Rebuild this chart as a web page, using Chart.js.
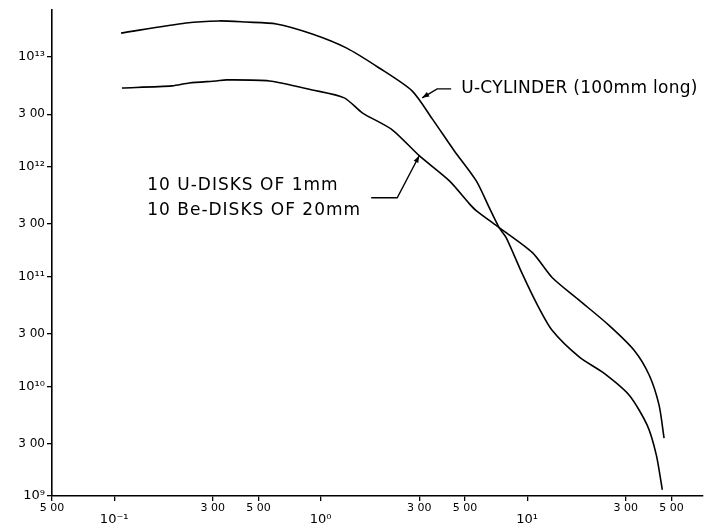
<!DOCTYPE html>
<html>
<head>
<meta charset="utf-8">
<script src="https://cdn.jsdelivr.net/npm/chart.js@4.4.1/dist/chart.umd.min.js"></script>
<style>
  html, body { margin: 0; padding: 0; background: #fff; }
  #wrap { width: 705px; height: 526px; }
</style>
</head>
<body>
<div id="wrap"><canvas id="chart" width="705" height="526"></canvas></div>
<script>
// U-cylinder (100 mm long)
const cylinderX = [0.108, 0.223, 0.322, 0.435, 0.61, 0.91, 1.33, 1.92, 2.77, 3.47, 4.43, 5.66, 6.55, 7.31, 7.91, 9.46, 11.1, 13.2, 17.9, 23.6, 31.2, 38.1, 42.2, 45.1];
const cylinderY = [1.65e13, 2.04e13, 2.13e13, 2.08e13, 2.0e13, 1.62e13, 1.21e13, 7.94e12, 4.91e12, 2.73e12, 1.40e12, 7.46e11, 4.24e11, 2.79e11, 2.26e11, 1.06e11, 5.69e10, 3.23e10, 1.84e10, 1.31e10, 8.28e9, 4.42e9, 2.36e9, 1.14e9];

// 10 U-disks of 1 mm + 10 Be-disks of 20 mm
const disksX = [0.109, 0.191, 0.231, 0.312, 0.349, 0.564, 0.91, 1.30, 1.59, 2.22, 3.0, 4.19, 5.24, 5.66, 7.31, 10.6, 13.2, 17.9, 24.9, 33.0, 39.0, 43.5, 46.0];
const disksY = [5.22e12, 5.45e12, 5.8e12, 6.05e12, 6.18e12, 6.05e12, 5.01e12, 4.24e12, 3.1e12, 2.17e12, 1.26e12, 7.46e11, 4.61e11, 3.98e11, 2.79e11, 1.65e11, 9.8e10, 6.05e10, 3.59e10, 2.12e10, 1.26e10, 6.72e9, 3.37e9];

// Axis ticks and their printed labels
const xTicks = [0.05, 0.1, 0.3, 0.5, 1, 3, 5, 10, 30, 50];
const xTickLabels = ['5 00', ['', '10\u207B\u00B9'], '3 00', '5 00', ['', '10\u2070'], '3 00', '5 00', ['', '10\u00B9'], '3 00', '5 00'];
const yTicks = [1e9, 3e9, 1e10, 3e10, 1e11, 3e11, 1e12, 3e12, 1e13];
const yTickLabels = ['10\u2079', '3 00', '10\u00B9\u2070', '3 00', '10\u00B9\u00B9', '3 00', '10\u00B9\u00B2', '3 00', '10\u00B9\u00B3'];

// Curve labels: where each leader arrow touches its curve
const cylinderLabel = ['U-CYLINDER (100mm long)'];
const cylinderArrowAt = [3.1, 4.24e12];
const disksLabel = ['10 U-DISKS OF 1mm', '10 Be-DISKS OF 20mm'];
const disksArrowAt = [3.0, 1.26e12];

const toPoints = (xs, ys) => xs.map((x, i) => ({ x, y: ys[i] }));
const isDecade = v => Math.abs(Math.log10(v) - Math.round(Math.log10(v))) < 1e-9;

function arrowHead(ctx, fromX, fromY, toX, toY) {
  const a = Math.atan2(toY - fromY, toX - fromX);
  const len = 7, w = 2.6;
  ctx.beginPath();
  ctx.moveTo(toX, toY);
  ctx.lineTo(toX - len * Math.cos(a) + w * Math.sin(a), toY - len * Math.sin(a) - w * Math.cos(a));
  ctx.lineTo(toX - len * Math.cos(a) - w * Math.sin(a), toY - len * Math.sin(a) + w * Math.cos(a));
  ctx.closePath();
  ctx.fill();
}

const leaderLabels = {
  id: 'leaderLabels',
  afterDatasetsDraw(chart) {
    const { ctx, scales: { x, y } } = chart;
    ctx.save();
    ctx.strokeStyle = '#000';
    ctx.fillStyle = '#000';
    ctx.lineWidth = 1.4;
    ctx.font = '17px "DejaVu Sans"';
    ctx.textBaseline = 'middle';
    ctx.textAlign = 'left';

    // cylinder leader: up-right, then horizontal to the text
    let tx = x.getPixelForValue(cylinderArrowAt[0]);
    let ty = y.getPixelForValue(cylinderArrowAt[1]);
    let ex = tx + 15, ey = ty - 9;
    ctx.beginPath();
    ctx.moveTo(tx + 29, ey);
    ctx.lineTo(ex, ey);
    ctx.lineTo(tx, ty);
    ctx.stroke();
    arrowHead(ctx, ex, ey, tx, ty);
    ctx.letterSpacing = '0.3px';
    ctx.fillText(cylinderLabel[0], tx + 39, ey);

    // disks leader: down-left, then horizontal toward the text
    tx = x.getPixelForValue(disksArrowAt[0]);
    ty = y.getPixelForValue(disksArrowAt[1]);
    ex = tx - 22; ey = ty + 42;
    ctx.beginPath();
    ctx.moveTo(tx - 48, ey);
    ctx.lineTo(ex, ey);
    ctx.lineTo(tx, ty);
    ctx.stroke();
    arrowHead(ctx, ex, ey, tx, ty);
    ctx.letterSpacing = '1px';
    ctx.fillText(disksLabel[0], tx - 272, ty + 30);
    ctx.fillText(disksLabel[1], tx - 272, ty + 55);
    ctx.restore();
  }
};

const lineStyle = {
  borderColor: '#000',
  borderWidth: 1.6,
  pointRadius: 0,
  fill: false,
  tension: 0.25
};

new Chart(document.getElementById('chart'), {
  type: 'line',
  data: {
    datasets: [
      Object.assign({ label: 'U-CYLINDER (100mm long)', data: toPoints(cylinderX, cylinderY) }, lineStyle),
      Object.assign({ label: '10 U-DISKS OF 1mm / 10 Be-DISKS OF 20mm', data: toPoints(disksX, disksY) }, lineStyle)
    ]
  },
  options: {
    responsive: false,
    animation: false,
    events: [],
    layout: { padding: { left: 0, top: 9, right: 2, bottom: 0 } },
    plugins: { legend: { display: false }, tooltip: { enabled: false } },
    scales: {
      x: {
        type: 'logarithmic',
        min: 0.05,
        max: 71,
        afterBuildTicks: s => { s.ticks = xTicks.map(v => ({ value: v })); },
        afterFit: s => { s.height = 30; },
        ticks: {
          autoSkip: false,
          maxRotation: 0,
          color: '#000',
          padding: 1,
          font: c => (c.tick && isDecade(c.tick.value))
            ? { family: '"DejaVu Sans"', size: 13, lineHeight: 0.92 }
            : { family: '"DejaVu Sans"', size: 11, lineHeight: 1.1 },
          callback: (v, i) => xTickLabels[i]
        },
        grid: { drawOnChartArea: false, drawTicks: true, tickLength: 5, color: '#000', lineWidth: 1.3 },
        border: { display: true, color: '#000', width: 1.6 }
      },
      y: {
        type: 'logarithmic',
        min: 1e9,
        max: 2.69e13,
        afterBuildTicks: s => { s.ticks = yTicks.map(v => ({ value: v })); },
        afterFit: s => { s.width = 52; },
        ticks: {
          autoSkip: false,
          color: '#000',
          padding: 2,
          font: c => (c.tick && isDecade(c.tick.value))
            ? { family: '"DejaVu Sans"', size: 13 }
            : { family: '"DejaVu Sans"', size: 12 },
          callback: (v, i) => yTickLabels[i]
        },
        grid: { drawOnChartArea: false, drawTicks: true, tickLength: 5, color: '#000', lineWidth: 1.3 },
        border: { display: true, color: '#000', width: 1.6 }
      }
    }
  },
  plugins: [leaderLabels]
});
</script>
</body>
</html>
